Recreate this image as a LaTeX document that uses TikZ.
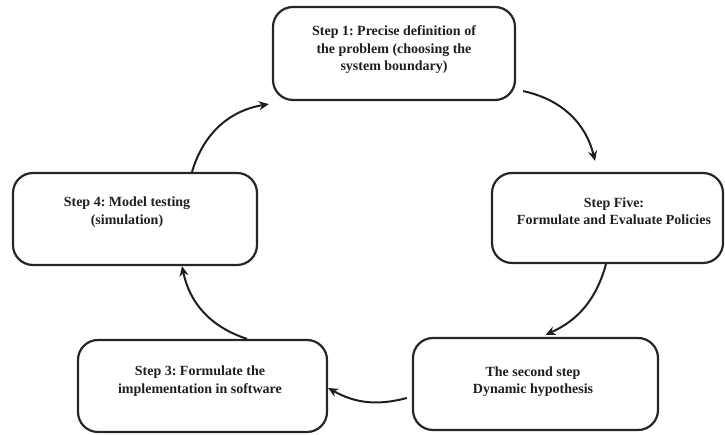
\documentclass[tikz,border=0pt]{standalone}
\usepackage{fontspec}
\setmainfont{Liberation Serif}
\usetikzlibrary{arrows.meta,calc}
\frenchspacing
\tikzset{
  stepbox/.style={draw=black!85, line width=2.2pt, rounded corners=20pt, inner sep=0pt, fill=white},
  steptext/.style={align=center, font=\bfseries\fontsize{14}{17.5}\selectfont, text=black!88, inner sep=0pt},
  flow/.style={line width=2pt, draw=black!88, -{Stealth[length=10pt,width=9pt]}}
}
\begin{document}
\begin{tikzpicture}[x=1pt,y=1pt]
\useasboundingbox (0,0) rectangle (725,435);
% boxes
\node[stepbox, minimum width=242pt, minimum height=93pt] (b1) at (394,381.5) {};
\node[stepbox, minimum width=231pt, minimum height=90pt] (b5) at (607.5,217) {};
\node[stepbox, minimum width=245pt, minimum height=92pt] (b2) at (535.5,51) {};
\node[stepbox, minimum width=249pt, minimum height=92pt] (b3) at (202.5,49) {};
\node[stepbox, minimum width=244pt, minimum height=92pt] (b4) at (135,216) {};
% texts
\node[steptext] (t1) at (394,385) {Step 1: Precise definition of\\the problem (choosing the\\system boundary)};
\node[steptext] (t5) at (614,224) {Step Five:\\Formulate and Evaluate Policies};
\node[steptext] (t2) at (533,53.5) {The second step\\Dynamic hypothesis};
\node[steptext] (t3) at (200,54) {Step 3: Formulate the\\implementation in software};
\node[steptext] (t4) at (127,223) {Step 4: Model testing\\(simulation)};
% connector end points
\coordinate (a1s) at ([xshift=57pt]b4.north);
\coordinate (a1e) at ([xshift=-3pt,yshift=-3pt]b1.south west);
\coordinate (a2s) at ([xshift=7pt,yshift=10pt]b1.south east);
\coordinate (a2e) at ([xshift=-12.5pt,yshift=11pt]b5.north);
\coordinate (a3s) at ([xshift=-1.5pt]b5.south);
\coordinate (a3e) at ([xshift=10pt,yshift=2pt]b2.north);
\coordinate (a4s) at ([xshift=-5pt,yshift=-14pt]b2.west);
\coordinate (a4e) at ([yshift=-2pt]b3.east);
\coordinate (a5s) at ([xshift=44.5pt]b3.north);
\coordinate (a5e) at ([xshift=47pt]b4.south);
% connectors
\draw[flow] (a1s) to[bend left=32] (a1e);
\draw[flow] (a2s) to[bend left=32] (a2e);
\draw[flow] (a3s) to[bend left=25] (a3e);
\draw[flow] (a4s) to[bend left=22] (a4e);
\draw[flow] (a5s) to[bend left=30] (a5e);
\end{tikzpicture}
\end{document}
